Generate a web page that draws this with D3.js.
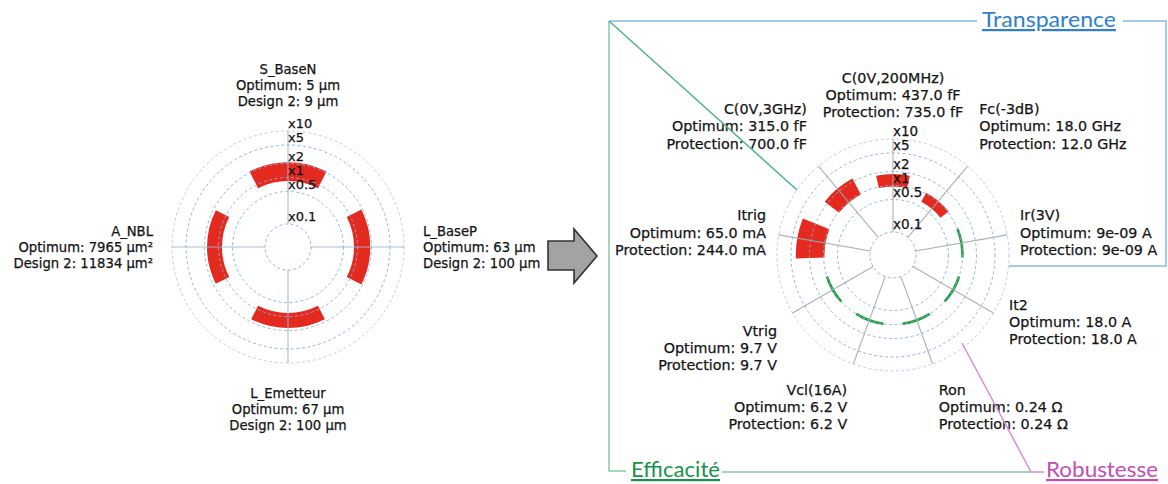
<!DOCTYPE html>
<html><head><meta charset="utf-8">
<script src="https://cdn.jsdelivr.net/npm/d3@7"></script>
<style>body{margin:0;background:#fff}svg{display:block}</style>
</head><body>
<svg id="c" width="1168" height="484"></svg>
<script>
// ---- data ----
const tickValues = [0.1, 0.5, 1, 2, 5, 10];
const tickLabels = ["x0.1", "x0.5", "x1", "x2", "x5", "x10"];

const leftAxes = ["S_BaseN", "L_BaseP", "L_Emetteur", "A_NBL"];
const leftOptimum = [5, 63, 67, 7965];
const leftDesign2 = [9, 100, 100, 11834];
const leftUnits = ["µm", "µm", "µm", "µm²"];

const rightAxes = ["C(0V,200MHz)", "Fc(-3dB)", "Ir(3V)", "It2", "Ron", "Vcl(16A)", "Vtrig", "Itrig", "C(0V,3GHz)"];
const rightOptimum = [437.0, 18.0, 9e-9, 18.0, 0.24, 6.2, 9.7, 65.0, 315.0];
const rightProtection = [735.0, 12.0, 9e-9, 18.0, 0.24, 6.2, 9.7, 244.0, 700.0];
const rightUnits = ["fF", "GHz", "A", "A", "Ω", "V", "V", "mA", "fF"];

const groupTitles = ["Transparence", "Efficacité", "Robustesse"];

// ---- styles ----
const RED = "#e4291e", GREEN_ARC = "#1f9e3c", GRID = "#8aaed0", SPOKE = "#9fb2c4", TXT = "#141414";
const leftAnchors = ["bottom", "middle", "top", "middle"];
const rightAnchors = ["bottom", "bottom", "middle", "middle", "top", "top", "top", "middle", "bottom"];

const svg = d3.select("#c");

const fmtInt = v => String(v);
const fmtPy = v => {
  if (Number.isInteger(v)) return v.toFixed(1);
  if (Math.abs(v) < 1e-4) return v.toExponential().replace(/e([+-])(\d)$/, "e$10$2");
  return String(v);
};

function drawRadar(o) {
  const N = o.axes.length;
  const r = d3.scaleLog().domain([0.1, 10]).range([23, 116]);
  const ang = d3.scaleLinear().domain([0, N]).range([0, 2 * Math.PI]);
  const g = svg.append("g").attr("transform", `translate(${o.cx},${o.cy})`);

  // bars
  const ratios = o.refVals.map((v, i) => ({ i, q: o.cmpVals[i] / v }));
  const w = ang(1) * 0.6;
  const arc = d3.arc();
  g.selectAll("path.bar").data(ratios.filter(d => Math.abs(d.q - 1) > 1e-9)).join("path")
    .attr("d", d => arc({ innerRadius: r(Math.min(1, d.q)) - o.pad, outerRadius: r(Math.max(1, d.q)) + o.pad,
      startAngle: ang(d.i) - w / 2, endAngle: ang(d.i) + w / 2 }))
    .attr("fill", RED);
  g.selectAll("path.eq").data(ratios.filter(d => Math.abs(d.q - 1) <= 1e-9)).join("path")
    .attr("d", d => arc({ innerRadius: r(1) - 1.3, outerRadius: r(1) + 1.3,
      startAngle: ang(d.i) - w / 2, endAngle: ang(d.i) + w / 2 }))
    .attr("fill", GREEN_ARC);

  // grid circles
  g.selectAll("circle.grid").data(tickValues).join("circle")
    .attr("r", d => r(d)).attr("fill", "none")
    .attr("stroke", (d, i) => i === tickValues.length - 1 ? "#b3cbe0" : GRID)
    .attr("stroke-width", 1).attr("stroke-dasharray", "3,2.5").attr("opacity", 0.9);

  // spokes
  g.selectAll("line.spoke").data(o.axes).join("line")
    .attr("x1", (d, i) => r(0.1) * Math.sin(ang(i))).attr("y1", (d, i) => -r(0.1) * Math.cos(ang(i)))
    .attr("x2", (d, i) => r(10) * Math.sin(ang(i))).attr("y2", (d, i) => -r(10) * Math.cos(ang(i)))
    .attr("stroke", o.spoke).attr("stroke-width", 1.1).attr("opacity", 0.9);

  // tick labels
  g.selectAll("text.tick").data(tickValues).join("text")
    .attr("x", 0).attr("y", d => -r(d) - 3)
    .attr("font-family", "DejaVu Sans").attr("font-size", o.tickSize).attr("fill", TXT)
    .attr("stroke", TXT).attr("stroke-width", 0.25)
    .text((d, i) => tickLabels[i]);

  // axis labels
  o.axes.forEach((name, i) => {
    const a = ang(i), sx = Math.sin(a), sy = -Math.cos(a);
    const ha = Math.abs(sx) < 1e-6 ? "middle" : (sx > 0 ? "start" : "end");
    const R = Math.abs(sy) < 0.3 ? o.labelR - o.sideInset : o.labelR;
    const px = R * sx, py = R * sy;
    const va = o.anchors[i];
    const L = o.lineH;
    const first = va === "bottom" ? py - 2.5 * L : va === "top" ? py + 0.5 * L : py - L;
    const lines = [name,
      `${o.refName}: ${o.fmt(o.refVals[i])} ${o.units[i]}`,
      `${o.cmpName}: ${o.fmt(o.cmpVals[i])} ${o.units[i]}`];
    g.append("g").selectAll("text").data(lines).join("text")
      .attr("x", px).attr("y", (d, k) => first + k * L)
      .attr("dominant-baseline", "central").attr("text-anchor", ha)
      .attr("font-family", "DejaVu Sans").attr("font-size", o.fontSize).attr("fill", TXT)
      .attr("stroke", TXT).attr("stroke-width", 0.25)
      .text(d => d);
  });
}

drawRadar({ cx: 288, cy: 247, axes: leftAxes, refVals: leftOptimum, cmpVals: leftDesign2, units: leftUnits,
  refName: "Optimum", cmpName: "Design 2", fmt: fmtInt, fontSize: 13.2, tickSize: 13, lineH: 16,
  labelR: 138, sideInset: 3, anchors: leftAnchors, pad: 3.5, spoke: "#9db9d4" });
drawRadar({ cx: 893, cy: 255, axes: rightAxes, refVals: rightOptimum, cmpVals: rightProtection, units: rightUnits,
  refName: "Optimum", cmpName: "Protection", fmt: fmtPy, fontSize: 14.3, tickSize: 13.5, lineH: 17.3,
  labelR: 134, sideInset: 5, anchors: rightAnchors, pad: 1, spoke: "#a0a9b2" });

// ---- arrow ----
svg.append("path")
  .attr("d", "M548,241 L574,241 L574,229 L597,256 L574,283 L574,270 L548,270 Z")
  .attr("fill", "#a3a3a3").attr("stroke", "#333").attr("stroke-width", 1.6).attr("stroke-linejoin", "miter");

// ---- group frame ----
const fr = svg.append("g").attr("fill", "none").attr("stroke-width", 1.5);
fr.append("path").attr("d", "M609,21 L977,21 M1123,21 L1166,21 L1166,266 L1009,266").attr("stroke", "#86b9e3");
fr.append("path").attr("d", "M609,21 L609,471 L626,471 M722,472 L1031,472").attr("stroke", "#86c9a0");
fr.append("path").attr("d", "M609,21 L797,190").attr("stroke", "#4fb487");
fr.append("path").attr("d", "M962,343 L1031,472 L1044,472").attr("stroke", "#d98ed0");

const titleColors = ["#2f7fcf", "#17934a", "#c14db6"];
const titlePos = [[982, 27, 134], [631, 477, 89], [1046, 477, 112]];
groupTitles.forEach((t, i) => {
  svg.append("text").attr("x", titlePos[i][0]).attr("y", titlePos[i][1])
    .attr("font-family", "Lato").attr("font-size", 22).attr("fill", titleColors[i])
    .attr("text-decoration", "underline")
    .attr("textLength", titlePos[i][2]).attr("lengthAdjust", "spacingAndGlyphs")
    .text(t);
});
</script>
</body></html>
